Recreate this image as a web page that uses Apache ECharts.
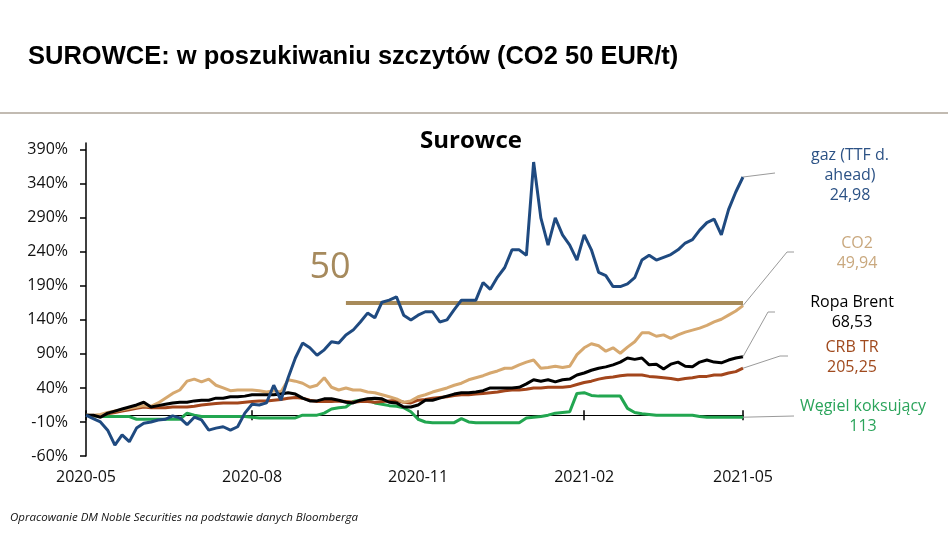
<!DOCTYPE html>
<html><head><meta charset="utf-8">
<script src="https://cdn.jsdelivr.net/npm/echarts@6/dist/echarts.min.js"></script>
<style>html,body{margin:0;padding:0;background:#fff}#c{width:948px;height:533px}</style>
</head><body><div id="c"></div>
<script>
// Dates (every 4 days)
const dates = [
'2020-05-14','2020-05-18','2020-05-22','2020-05-26','2020-05-30',
'2020-06-03','2020-06-07','2020-06-11','2020-06-15','2020-06-19','2020-06-23','2020-06-27',
'2020-07-01','2020-07-05','2020-07-09','2020-07-13','2020-07-17','2020-07-21','2020-07-25','2020-07-29',
'2020-08-02','2020-08-06','2020-08-10','2020-08-14','2020-08-18','2020-08-22','2020-08-26','2020-08-30',
'2020-09-03','2020-09-07','2020-09-11','2020-09-15','2020-09-19','2020-09-23','2020-09-27',
'2020-10-01','2020-10-05','2020-10-09','2020-10-13','2020-10-17','2020-10-21','2020-10-25','2020-10-29',
'2020-11-02','2020-11-06','2020-11-10','2020-11-14','2020-11-18','2020-11-22','2020-11-26','2020-11-30',
'2020-12-04','2020-12-08','2020-12-12','2020-12-16','2020-12-20','2020-12-24','2020-12-28',
'2021-01-01','2021-01-05','2021-01-09','2021-01-13','2021-01-17','2021-01-21','2021-01-25','2021-01-29',
'2021-02-02','2021-02-06','2021-02-10','2021-02-14','2021-02-18','2021-02-22','2021-02-26',
'2021-03-02','2021-03-06','2021-03-10','2021-03-14','2021-03-18','2021-03-22','2021-03-26','2021-03-30',
'2021-04-03','2021-04-07','2021-04-11','2021-04-15','2021-04-19','2021-04-23','2021-04-27',
'2021-05-01','2021-05-05','2021-05-09','2021-05-13'
];
const xTickDates = ['2020-05-14','2020-08-14','2020-11-14','2021-02-14','2021-05-13'];
const yTicks = [-60,-10,40,90,140,190,240,290,340,390];

// % change since start
const gas = [
0,-5,-10,-22,-44,-29,-39,-19,-12,-10,
-7,-6,-1,-4,-14,-3,-7,-22,-19,-17,
-22,-17,3,16,15,18,44,22,55,84,
106,99,88,96,108,106,118,125,137,150,
143,166,169,174,147,140,147,152,152,137,
140,155,169,169,169,195,185,203,217,243,
243,235,372,290,250,290,265,250,228,265,
243,210,205,189,189,193,202,228,235,228,
232,236,243,253,258,272,283,288,265,302,
328,350];
const co2 = [
0,0,1,4,6,8,10,12,14,13,
18,25,32,37,50,53,49,53,44,40,
36,37,37,37,36,34,36,34,52,50,
47,41,44,55,41,37,40,37,37,34,
33,30,27,24,19,21,27,30,34,37,
40,44,47,52,55,58,62,65,69,69,
74,78,81,69,70,72,70,72,89,99,
105,102,94,99,91,100,108,121,121,116,
118,113,118,122,125,128,132,137,141,147,
153,161];
const brent = [
0,0,-3,3,6,9,12,15,19,12,
14,16,18,19,19,21,22,22,25,25,
27,27,28,30,30,30,30,31,33,31,
25,21,21,24,24,22,19,18,22,24,
25,24,19,18,12,12,15,22,22,25,
28,31,33,33,34,36,40,40,40,40,
41,46,52,50,52,49,52,53,59,62,
66,69,71,74,78,84,82,84,74,75,
68,75,78,72,71,78,81,78,77,81,
84,86];
const crb = [
0,-1,-1,2,4,6,8,10,12,11,
11,11,12,12,12,13,15,16,17,18,
18,18,19,20,21,21,22,23,25,26,
25,22,20,20,20,21,20,19,20,20,
19,20,21,22,19,18,22,23,25,26,
27,29,30,30,31,32,33,34,36,37,
37,38,40,40,41,41,41,42,45,48,
50,53,55,56,58,59,59,59,57,56,
55,54,52,54,55,57,57,59,59,62,
64,69];
const coal = [
0,-1,-2,-2,-2,-2,-2,-6,-6,-6,
-6,-6,-6,-6,3,0,-2,-2,-2,-2,
-2,-2,-2,-3,-4,-4,-4,-4,-4,-4,
0,0,0,3,9,11,12,20,22,22,
18,16,14,13,11,5,-6,-10,-11,-11,
-11,-11,-5,-10,-11,-11,-11,-11,-11,-11,
-11,-4,-3,-2,0,3,4,5,32,33,
29,28,28,28,28,10,4,2,1,0,
0,0,0,0,0,-2,-3,-3,-3,-3,
-3,-3];

const targetLevel = 165;          // level of the "50" line
const targetStart = '2020-10-05';
const targetText = '50';

const seriesInfo = [
  {name:'Węgiel koksujący', data:coal,  color:'#22a650', label:'Węgiel koksujący\n113', labelColor:'#2ba45b'},
  {name:'CRB TR',           data:crb,   color:'#a3461c', label:'CRB TR\n205,25',       labelColor:'#a04a1e'},
  {name:'CO2',              data:co2,   color:'#d6a86f', label:'CO2\n49,94',           labelColor:'#c9a87e'},
  {name:'Ropa Brent',       data:brent, color:'#000000', label:'Ropa Brent\n68,53',    labelColor:'#000000'},
  {name:'gaz',              data:gas,   color:'#1f4a80', label:'gaz (TTF d.\nahead)\n24,98', labelColor:'#2c5285'}
];

const tickSet = new Set(xTickDates);
const isTick = (i, v) => tickSet.has(v);
const FONT = '"Open Sans", "DejaVu Sans", sans-serif';

const chart = echarts.init(document.getElementById('c'));
const option = {
  animation: false,
  backgroundColor: '#fff',
  grid: {left: 86, right: 205, top: 143, bottom: 77, containLabel: false},
  xAxis: [
    {type:'category', data:dates, boundaryGap:false, position:'bottom',
     axisLine:{onZero:true, onZeroAxisIndex:0, lineStyle:{color:'#000', width:1}},
     axisTick:{show:true, interval:isTick, length:5, lineStyle:{color:'#000', width:1.5}},
     axisLabel:{show:false}, splitLine:{show:false}},
    {type:'category', data:dates, boundaryGap:false, position:'top',
     axisLine:{onZero:true, onZeroAxisIndex:0, lineStyle:{color:'#000', width:1}},
     axisTick:{show:true, interval:isTick, length:5, lineStyle:{color:'#000', width:1.5}},
     axisLabel:{show:false}, splitLine:{show:false}},
    {type:'category', data:dates, boundaryGap:false, position:'bottom',
     axisLine:{show:false, onZero:false}, axisTick:{show:false},
     axisLabel:{show:true, interval:isTick, margin:13, color:'#111', fontSize:16, fontFamily:FONT,
       formatter: v => v.slice(0,7)}, splitLine:{show:false}}
  ],
  yAxis: {type:'value', min:-60, max:400,
    axisLine:{show:true, onZero:false, lineStyle:{color:'#000', width:1.5}},
    axisTick:{show:true, length:6, customValues:yTicks, lineStyle:{color:'#000', width:1.5}},
    axisLabel:{customValues:yTicks, formatter: v => v + '%', margin:18, color:'#111', fontSize:16, fontFamily:FONT},
    splitLine:{show:false}},
  series: seriesInfo.map((s, k) => ({
    name: s.name, type:'line', data:s.data, showSymbol:false, symbol:'none',
    xAxisIndex:0, yAxisIndex:0, silent:true, z: 2 + k,
    lineStyle:{color:s.color, width:3}, itemStyle:{color:s.color},
    markLine: s.name === 'CO2' ? {
      silent:true, symbol:'none', label:{show:false},
      lineStyle:{color:'#a88b5a', width:4, type:'solid'},
      data:[[{coord:[targetStart, targetLevel]}, {coord:[dates[dates.length-1], targetLevel]}]]
    } : undefined
  }))
};
chart.setOption(option);

// Annotation graphics
const last = dates.length - 1;
const anchors = {
  'gaz':              {pts:[[775,173]],            text:[850,175]},
  'CO2':              {pts:[[787,252],[794,252]],  text:[857,253]},
  'Ropa Brent':       {pts:[[768,312],[775,312]],  text:[852,312]},
  'CRB TR':           {pts:[[780,356],[788,356]],  text:[852,357]},
  'Węgiel koksujący': {pts:[[794,416]],            text:[863,416]}
};
const g = [
  {type:'text', x:28, y:57, style:{text:'SUROWCE: w poszukiwaniu szczytów (CO2 50 EUR/t)', font:'bold 25.5px "Liberation Sans", Arial, sans-serif', fill:'#000', align:'left', verticalAlign:'middle'}},
  {type:'line', shape:{x1:0, y1:113, x2:948, y2:113}, style:{stroke:'#c2bbb2', lineWidth:2}},
  {type:'text', x:471, y:141, style:{text:'Surowce', font:'bold 24px ' + FONT, fill:'#000', align:'center', verticalAlign:'middle'}},
  {type:'text', x:330, y:268, style:{text:targetText, font:'36px ' + FONT, fill:'#a68a5d', align:'center', verticalAlign:'middle'}},
  {type:'text', x:10, y:518, style:{text:'Opracowanie DM Noble Securities na podstawie danych Bloomberga', font:'italic 11.5px ' + FONT, fill:'#111', align:'left', verticalAlign:'middle'}}
];
seriesInfo.forEach(s => {
  const p = chart.convertToPixel({xAxisIndex:0, yAxisIndex:0}, [last, s.data[last]]);
  const a = anchors[s.name];
  g.push({type:'polyline', shape:{points:[p].concat(a.pts)}, style:{stroke:'#9a9a9a', lineWidth:1, fill:null}, z:10});
  g.push({type:'text', x:a.text[0], y:a.text[1], style:{text:s.label, font:'16px ' + FONT, fill:s.labelColor, align:'center', verticalAlign:'middle', lineHeight:20}});
});
chart.setOption({graphic: g});
</script>
</body></html>
